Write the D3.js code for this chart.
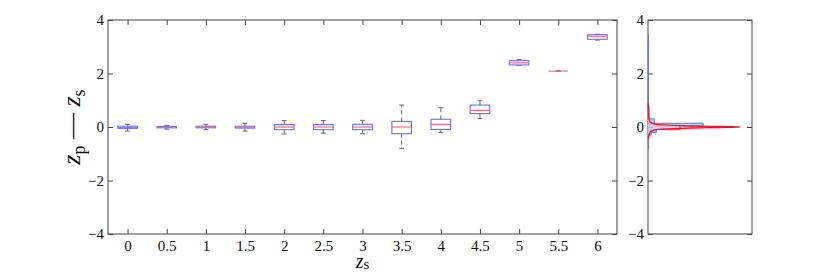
<!DOCTYPE html>
<html>
<head>
<meta charset="utf-8">
<script src="https://cdn.jsdelivr.net/npm/d3@7"></script>
<style>
    body { margin: 0; background: #fff; }
    svg, svg text { font-family: 'Liberation Serif', 'DejaVu Serif', serif; }
</style>
</head>
<body>
<div id="chart"></div>
<script>
// box plot data, one entry per z_s group
const groups = [0, 0.5, 1, 1.5, 2, 2.5, 3, 3.5, 4, 4.5, 5, 5.5, 6];
const whiskLo = [-0.15, -0.08, -0.10, -0.15, -0.26, -0.23, -0.25, -0.80, -0.21, 0.32, 2.31, 2.09, 3.25];
const q1      = [-0.05, -0.03, -0.03, -0.04, -0.10, -0.10, -0.10, -0.25, -0.09, 0.50, 2.32, 2.09, 3.28];
const median  = [-0.02, -0.01, 0.00, -0.01, 0.00, 0.00, 0.00, 0.00, 0.10, 0.62, 2.40, 2.09, 3.39];
const q3      = [0.03, 0.02, 0.03, 0.03, 0.09, 0.09, 0.10, 0.21, 0.29, 0.82, 2.48, 2.09, 3.45];
const whiskHi = [0.10, 0.06, 0.10, 0.14, 0.24, 0.24, 0.25, 0.82, 0.72, 0.98, 2.52, 2.09, 3.47];

const xTicks = [0, 0.5, 1, 1.5, 2, 2.5, 3, 3.5, 4, 4.5, 5, 5.5, 6];
const yTicks = [-4, -2, 0, 2, 4];

// side panel: histogram of z_p - z_s (bin edges + normalised heights)
const histEdges  = [-0.8, -0.3, -0.2, -0.1, 0.0, 0.04, 0.14, 0.3, 0.8, 3.47];
const histCounts = [0.006, 0.03, 0.08, 0.31, 0.30, 0.53, 0.06, 0.01, 0.004];

// side panel: density curve
const densY = [-0.45, -0.3, -0.2, -0.15, -0.1, -0.08, -0.06, -0.04, -0.025, -0.012, 0, 0.012, 0.025, 0.04, 0.06, 0.08, 0.1, 0.15, 0.2, 0.3, 0.5, 0.9];
const densX = [0.003, 0.01, 0.02, 0.035, 0.08, 0.14, 0.24, 0.42, 0.6, 0.78, 0.885, 0.78, 0.6, 0.42, 0.24, 0.14, 0.08, 0.035, 0.02, 0.01, 0.005, 0.002];

const W = 830, H = 274;
const main = { left: 108, right: 617, top: 20, bottom: 234 };
const side = { left: 648, right: 752, top: 20, bottom: 234 };
const axisColor = '#444';
const serif = 'Liberation Serif, DejaVu Serif, serif';

const svg = d3.select('#chart').append('svg')
    .attr('width', W)
    .attr('height', H)
    .attr('font-family', serif);

const x = d3.scaleLinear().domain([-0.25, 6.25]).range([main.left, main.right]);
const y = d3.scaleLinear().domain([-4, 4]).range([main.bottom, main.top]);
const xs = d3.scaleLinear().domain([0, 1]).range([side.left, side.right]);

/**
 * draw a boxed frame with inward ticks
 */
let drawFrame = (box, xScale, xTickVals) => {
    const g = svg.append('g');

    g.append('g')
        .attr('transform', `translate(${box.left},0)`)
        .call(d3.axisLeft(y).tickValues(yTicks).tickSizeInner(-5).tickSizeOuter(0).tickPadding(4)
            .tickFormat(d => d < 0 ? '\u2212' + Math.abs(d) : d));
    g.append('g')
        .attr('transform', `translate(${box.right},0)`)
        .call(d3.axisRight(y).tickValues(yTicks).tickSizeInner(-5).tickSizeOuter(0).tickFormat(''));

    if (xScale) {
        g.append('g')
            .attr('transform', `translate(0,${box.bottom})`)
            .call(d3.axisBottom(xScale).tickValues(xTickVals).tickSizeInner(-5).tickSizeOuter(0).tickPadding(6)
                .tickFormat(d => d));
        g.append('g')
            .attr('transform', `translate(0,${box.top})`)
            .call(d3.axisTop(xScale).tickValues(xTickVals).tickSizeInner(-5).tickSizeOuter(0).tickFormat(''));
    }

    g.selectAll('g').attr('font-family', serif).attr('font-size', 15);
    g.selectAll('.domain').remove();
    g.selectAll('.tick line').attr('stroke', axisColor);
    g.selectAll('.tick text')
        .attr('fill', '#111')
        .attr('font-family', serif);

    g.append('rect')
        .attr('x', box.left)
        .attr('y', box.top)
        .attr('width', box.right - box.left)
        .attr('height', box.bottom - box.top)
        .attr('fill', 'none')
        .attr('stroke', axisColor)
        .attr('stroke-width', 1);
    return g;
}

drawFrame(main, x, xTicks);
drawFrame(side, null, []);

// box plots
const boxW = x(0.125) - x(0);
const capW = boxW / 2;
const plot = svg.append('g');

groups.forEach((gx, i) => {
    const cx = x(gx);
    const g = plot.append('g');

    // whiskers (dashed)
    g.append('line')
        .attr('x1', cx).attr('x2', cx)
        .attr('y1', y(q3[i])).attr('y2', y(whiskHi[i]))
        .attr('stroke', '#666').attr('stroke-dasharray', '4,3').attr('stroke-width', 1);
    g.append('line')
        .attr('x1', cx).attr('x2', cx)
        .attr('y1', y(q1[i])).attr('y2', y(whiskLo[i]))
        .attr('stroke', '#666').attr('stroke-dasharray', '4,3').attr('stroke-width', 1);

    // caps
    [whiskHi[i], whiskLo[i]].forEach(v => {
        g.append('line')
            .attr('x1', cx - capW / 2).attr('x2', cx + capW / 2)
            .attr('y1', y(v)).attr('y2', y(v))
            .attr('stroke', '#666').attr('stroke-width', 1);
    });

    // box
    g.append('rect')
        .attr('x', cx - boxW)
        .attr('y', y(q3[i]))
        .attr('width', boxW * 2)
        .attr('height', Math.max(0, y(q1[i]) - y(q3[i])))
        .attr('fill', '#fff')
        .attr('stroke', '#6a6aff')
        .attr('stroke-width', 1.1);

    // median
    g.append('line')
        .attr('x1', cx - boxW).attr('x2', cx + boxW)
        .attr('y1', y(median[i])).attr('y2', y(median[i]))
        .attr('stroke', '#ff6070').attr('stroke-width', 1.1);
});

// side panel histogram (horizontal)
const histPts = [[0, histEdges[0]]];
histCounts.forEach((c, i) => {
    histPts.push([c, histEdges[i]]);
    histPts.push([c, histEdges[i + 1]]);
});
histPts.push([0, histEdges[histEdges.length - 1]]);

const sideLine = d3.line()
    .x(d => xs(d[0]))
    .y(d => y(d[1]));

svg.append('path')
    .attr('d', sideLine(histPts))
    .attr('fill', '#c4ccff')
    .attr('fill-opacity', 0.85)
    .attr('stroke', '#6070d8')
    .attr('stroke-width', 1);

// density curve
const densPts = densY.map((v, i) => [densX[i], v]);
svg.append('path')
    .attr('d', d3.line().x(d => xs(d[0])).y(d => y(d[1])).curve(d3.curveMonotoneY)(densPts))
    .attr('fill', '#ff9090')
    .attr('fill-opacity', 0.18)
    .attr('stroke', '#ff1020')
    .attr('stroke-width', 1.4);

// axis labels
const yl = svg.append('text')
    .attr('transform', `translate(80,${y(0)}) rotate(-90)`)
    .attr('text-anchor', 'middle')
    .attr('font-size', 26)
    .attr('fill', '#111');
yl.append('tspan').attr('font-style', 'italic').text('z');
yl.append('tspan').attr('dy', 5).attr('font-size', 18).text('p');
yl.append('tspan').attr('dy', -5).text(' \u2014 ');
yl.append('tspan').attr('font-style', 'italic').text('z');
yl.append('tspan').attr('dy', 5).attr('font-size', 18).text('s');

const xl = svg.append('text')
    .attr('x', (main.left + main.right) / 2)
    .attr('y', 268)
    .attr('text-anchor', 'middle')
    .attr('font-size', 20)
    .attr('fill', '#111');
xl.append('tspan').attr('font-style', 'italic').text('z');
xl.append('tspan').attr('dy', 1).attr('font-size', 15).text('s');
</script>
</body>
</html>
